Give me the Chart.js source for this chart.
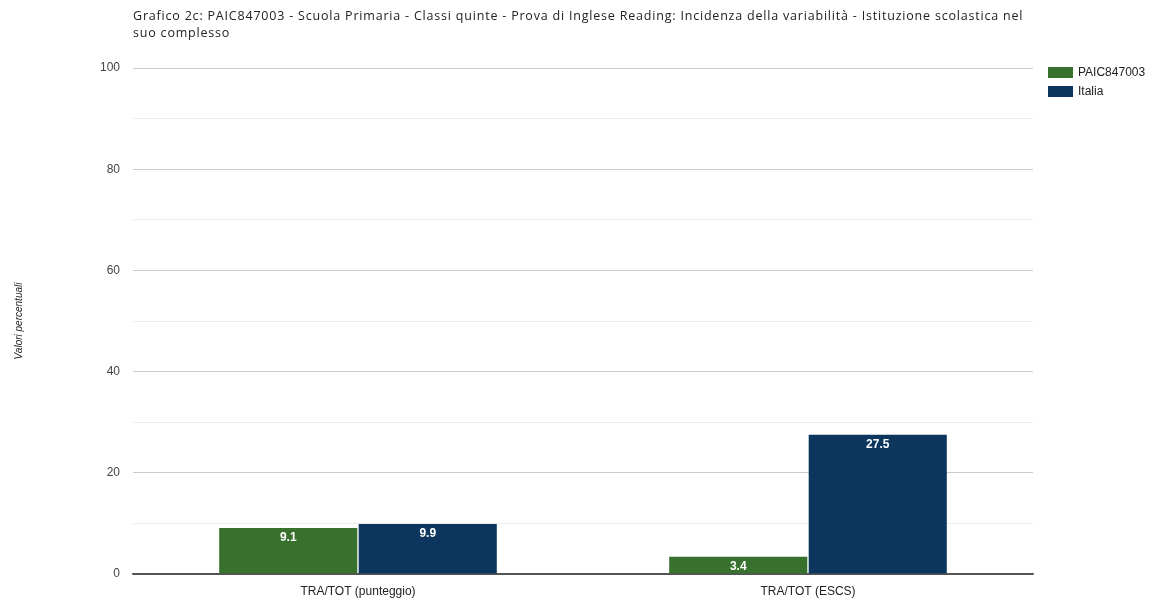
<!DOCTYPE html>
<html>
<head>
<meta charset="utf-8">
<script src="https://cdn.jsdelivr.net/npm/chart.js@4"></script>
<style>
  html, body { margin: 0; padding: 0; background: #fff; }
  #wrap { width: 1161px; height: 600px; }
</style>
</head>
<body>
<div id="wrap"><canvas id="barChart" width="1161" height="600"></canvas></div>
<script>
const categories = ['TRA/TOT (punteggio)', 'TRA/TOT (ESCS)'];
const seriesNames = ['PAIC847003', 'Italia'];
const schoolValues = [9.1, 3.4];
const italyValues = [9.9, 27.5];
const seriesColors = ['#37712d', '#0c365e'];
const titleLines = [
  'Grafico 2c: PAIC847003 - Scuola Primaria - Classi quinte - Prova di Inglese Reading: Incidenza della variabilità - Istituzione scolastica nel',
  'suo complesso'
];
const FONT = 'Arial, "Liberation Sans", sans-serif';

// title, legend and value labels drawn by hand
const extras = {
  id: 'extras',
  afterDatasetsDraw(chart) {
    const ctx = chart.ctx;
    ctx.save();
    ctx.font = 'bold 12px ' + FONT;
    ctx.fillStyle = '#ffffff';
    ctx.textAlign = 'center';
    ctx.textBaseline = 'middle';
    chart.data.datasets.forEach((ds, i) => {
      chart.getDatasetMeta(i).data.forEach((bar, j) => {
        const y = Math.min(bar.y + 10, bar.base - 7);
        ctx.fillText(ds.data[j].toFixed(1), bar.x, y);
      });
    });
    ctx.restore();
  },
  afterDraw(chart) {
    const ctx = chart.ctx;
    ctx.save();
    ctx.fillStyle = '#222';
    ctx.textAlign = 'left';
    ctx.textBaseline = 'middle';
    // spread the first title line to the width seen in the picture
    ctx.font = '500 12.5px "Open Sans", ' + FONT;
    const w = ctx.measureText(titleLines[0]).width;
    ctx.letterSpacing = Math.max(0, (889 - w) / (titleLines[0].length - 1)).toFixed(2) + 'px';
    titleLines.forEach((t, i) => ctx.fillText(t, 133, 16 + i * 17));
    ctx.letterSpacing = '0px';

    ctx.font = '12px ' + FONT;
    chart.data.datasets.forEach((ds, i) => {
      const y = 67 + i * 19;
      ctx.fillStyle = ds.backgroundColor;
      ctx.fillRect(1048, y, 25, 11);
      ctx.fillStyle = '#222';
      ctx.fillText(ds.label, 1078, y + 6);
    });
    ctx.restore();
  }
};

new Chart(document.getElementById('barChart'), {
  type: 'bar',
  data: {
    labels: categories,
    datasets: [
      { label: seriesNames[0], data: schoolValues, backgroundColor: seriesColors[0] },
      { label: seriesNames[1], data: italyValues, backgroundColor: seriesColors[1] }
    ]
  },
  options: {
    responsive: false,
    animation: false,
    layout: { padding: { left: 0, right: 128, top: 68, bottom: 0 } },
    datasets: { bar: { categoryPercentage: 0.62, barPercentage: 0.99 } },
    plugins: { legend: { display: false }, tooltip: { enabled: false } },
    scales: {
      x: {
        grid: { display: false },
        border: { color: '#555', width: 1.5 },
        ticks: { color: '#222', font: { size: 12, family: FONT }, padding: 2 },
        afterFit: s => { s.height = 26; }
      },
      y: {
        min: 0,
        max: 100,
        border: { display: false },
        grid: {
          color: c => c.tick.value === 0 ? '#555' : (c.tick.value % 20 === 0 ? '#cccccc' : '#ebebeb'),
          drawTicks: false
        },
        ticks: {
          stepSize: 10,
          color: '#444',
          font: { size: 12, family: FONT },
          padding: 13,
          callback: v => v % 20 === 0 ? v : ''
        },
        title: {
          display: true,
          text: 'Valori percentuali',
          color: '#222',
          font: { size: 10, style: 'italic', family: FONT },
          padding: { top: 13, bottom: 0 }
        },
        afterFit: s => { s.width = 133; }
      }
    }
  },
  plugins: [extras]
});
</script>
</body>
</html>
